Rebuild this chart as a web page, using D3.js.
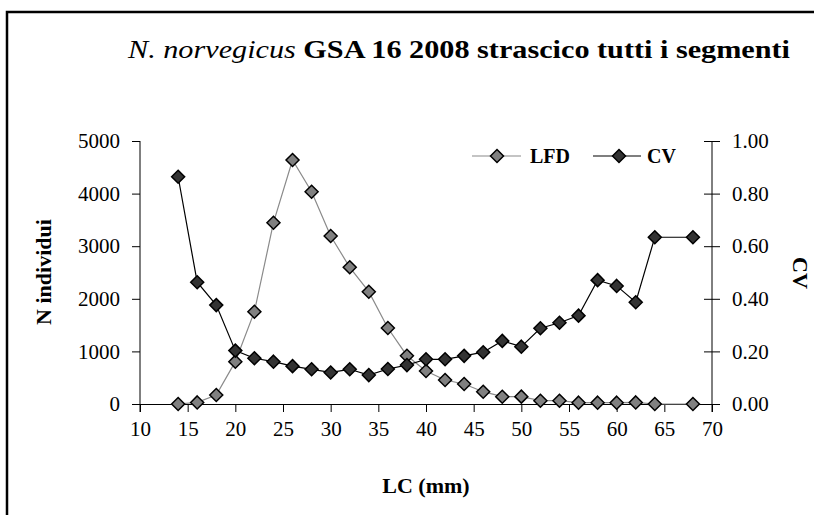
<!DOCTYPE html>
<html>
<head>
<meta charset="utf-8">
<script src="https://cdn.jsdelivr.net/npm/d3@7"></script>
</head>
<body style="margin:0;background:#fff">
<div id="chart"></div>
<script>
// lengths (mm)
var lc = [14, 16, 18, 20, 22, 24, 26, 28, 30, 32, 34, 36, 38, 40, 42, 44, 46, 48, 50, 52, 54, 56, 58, 60, 62, 64, 68];
// LFD: number of individuals
var lfd = [0, 30, 170, 805, 1755, 3447, 4639, 4036, 3194, 2599, 2135, 1445, 918, 627, 456, 380, 234, 139, 140, 63, 63, 25, 25, 25, 30, 0, 0];
// CV
var cv = [0.864, 0.463, 0.376, 0.203, 0.174, 0.161, 0.144, 0.132, 0.120, 0.132, 0.110, 0.133, 0.148, 0.170, 0.170, 0.183, 0.197, 0.240, 0.218, 0.288, 0.309, 0.336, 0.471, 0.449, 0.387, 0.634, 0.634];

var xTicks = [10, 15, 20, 25, 30, 35, 40, 45, 50, 55, 60, 65, 70];
var yTicks = [0, 1000, 2000, 3000, 4000, 5000];
var y2Ticks = [0, 0.2, 0.4, 0.6, 0.8, 1.0];

var FONT = "'Liberation Serif'";
var width = 814, height = 515;
var plot = { left: 140, right: 712, top: 141, bottom: 404 };

var svg = d3.select("#chart")
  .append("svg")
  .attr("width", width)
  .attr("height", height)
  .style("font-family", FONT);

// outer frame
svg.append("rect")
  .attr("x", 7).attr("y", 12)
  .attr("width", 820).attr("height", 520)
  .attr("fill", "none")
  .attr("stroke", "#000")
  .attr("stroke-width", 2.5);

var x = d3.scaleLinear().domain([10, 70]).range([plot.left, plot.right]);
var y = d3.scaleLinear().domain([0, 5000]).range([plot.bottom, plot.top]);
var y2 = d3.scaleLinear().domain([0, 1]).range([plot.bottom, plot.top]);

// title
var title = svg.append("text")
  .attr("x", 128).attr("y", 58)
  .style("font-family", FONT)
  .style("font-size", "25px")
  .attr("textLength", 662)
  .attr("lengthAdjust", "spacingAndGlyphs");
title.append("tspan").style("font-style", "italic").text("N. norvegicus ");
title.append("tspan").style("font-weight", "bold").text("GSA 16 2008 strascico tutti i segmenti");

// x axis
var xAxis = svg.append("g")
  .attr("transform", "translate(0," + plot.bottom + ")")
  .call(d3.axisBottom(x).tickValues(xTicks).tickSize(8).tickPadding(9).tickSizeOuter(0));

// left axis
var yAxis = svg.append("g")
  .attr("transform", "translate(" + plot.left + ",0)")
  .call(d3.axisLeft(y).tickValues(yTicks).tickFormat(d3.format("d")).tickSize(8).tickPadding(12).tickSizeOuter(0));

// right axis, ticks cross the line
var y2Axis = svg.append("g")
  .attr("transform", "translate(" + plot.right + ",0)")
  .call(d3.axisRight(y2).tickValues(y2Ticks).tickFormat(d3.format(".2f")).tickSize(8).tickPadding(12).tickSizeOuter(0));
y2Axis.selectAll(".tick line").attr("x1", -8);

[xAxis, yAxis, y2Axis].forEach(function(g) {
  g.attr("font-family", null);
  g.selectAll("text").style("font-family", FONT).style("font-size", "21px").attr("fill", "#000");
  g.selectAll("line").attr("stroke", "#000");
  g.select(".domain").attr("stroke", "#000");
});
// axes lines reach down to the x tick length
yAxis.select(".domain").attr("d", "M0," + plot.top + "V" + (plot.bottom + 8));
y2Axis.select(".domain").attr("d", "M0," + plot.top + "V" + (plot.bottom + 8));

// axis titles
svg.append("text")
  .attr("transform", "translate(43,272) rotate(-90)")
  .attr("text-anchor", "middle")
  .attr("dominant-baseline", "central")
  .style("font-family", FONT).style("font-size", "22px").style("font-weight", "bold")
  .text("N individui");

svg.append("text")
  .attr("transform", "translate(800,273) rotate(90)")
  .attr("text-anchor", "middle")
  .attr("dominant-baseline", "central")
  .style("font-family", FONT).style("font-size", "22px").style("font-weight", "bold")
  .text("CV");

svg.append("text")
  .attr("x", 426).attr("y", 493)
  .attr("text-anchor", "middle")
  .style("font-family", FONT).style("font-size", "22px").style("font-weight", "bold")
  .text("LC (mm)");

function diamond(cx, cy, r) {
  return "M" + cx + "," + (cy - r) + "L" + (cx + r) + "," + cy + "L" + cx + "," + (cy + r) + "L" + (cx - r) + "," + cy + "Z";
}

var lfdData = lc.map(function(d, i) { return { x: d, v: lfd[i] }; });
var cvData = lc.map(function(d, i) { return { x: d, v: cv[i] }; });

// LFD series
svg.append("path")
  .datum(lfdData)
  .attr("fill", "none")
  .attr("stroke", "#8a8a8a")
  .attr("stroke-width", 1.2)
  .attr("d", d3.line().x(function(d) { return x(d.x); }).y(function(d) { return y(d.v); }));

svg.selectAll(".lfd")
  .data(lfdData)
  .enter()
  .append("path")
  .attr("class", "lfd")
  .attr("d", function(d) { return diamond(x(d.x), y(d.v), 6.5); })
  .attr("fill", "#808080")
  .attr("stroke", "#000")
  .attr("stroke-width", 1.5);

// CV series
svg.append("path")
  .datum(cvData)
  .attr("fill", "none")
  .attr("stroke", "#000")
  .attr("stroke-width", 1.2)
  .attr("d", d3.line().x(function(d) { return x(d.x); }).y(function(d) { return y2(d.v); }));

svg.selectAll(".cv")
  .data(cvData)
  .enter()
  .append("path")
  .attr("class", "cv")
  .attr("d", function(d) { return diamond(x(d.x), y2(d.v), 6.5); })
  .attr("fill", "#333")
  .attr("stroke", "#000")
  .attr("stroke-width", 1.5);

// legend
var legend = svg.append("g");
legend.append("line").attr("x1", 472).attr("x2", 521).attr("y1", 156).attr("y2", 156)
  .attr("stroke", "#8a8a8a").attr("stroke-width", 1.2);
legend.append("path").attr("d", diamond(497, 156, 6.5))
  .attr("fill", "#808080").attr("stroke", "#000").attr("stroke-width", 1.5);
legend.append("text").attr("x", 530).attr("y", 163)
  .style("font-family", FONT).style("font-size", "20px").style("font-weight", "bold").text("LFD");
legend.append("line").attr("x1", 593).attr("x2", 641).attr("y1", 156).attr("y2", 156)
  .attr("stroke", "#000").attr("stroke-width", 1.2);
legend.append("path").attr("d", diamond(619, 156, 6.5))
  .attr("fill", "#333").attr("stroke", "#000").attr("stroke-width", 1.5);
legend.append("text").attr("x", 647).attr("y", 163)
  .style("font-family", FONT).style("font-size", "20px").style("font-weight", "bold").text("CV");
</script>
</body>
</html>
